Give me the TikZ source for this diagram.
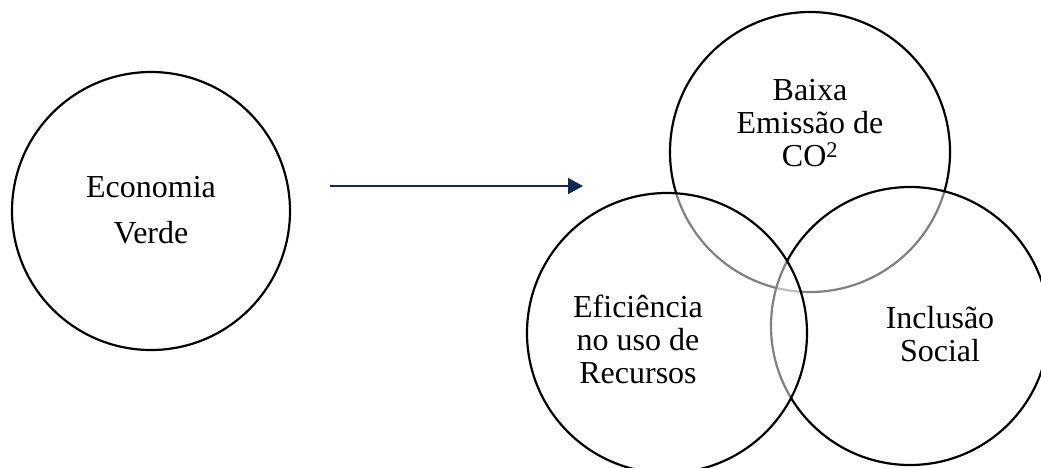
\documentclass[tikz,border=0pt]{standalone}
\usepackage{fontspec}
\setmainfont{Liberation Serif}[Ligatures=NoCommon]
\usetikzlibrary{arrows.meta}
\definecolor{navy}{HTML}{0F2660}
\begin{document}
\begin{tikzpicture}[x=1pt,y=-1pt,
  ring/.style={circle,draw=black,line width=2.2pt,inner sep=0pt,minimum size=#1},
  overlap/.style={fill=white,fill opacity=0.5},
  caption/.style={align=center,inner sep=0pt,font=\fontsize{32}{33}\selectfont},
  flow/.style={draw=navy,line width=1.8pt,-{Triangle[length=15pt,width=16pt]}}]
\clip (0,0) rectangle (1041,467);
% single circle on the left
\node[ring=278pt] (eco) at (151,211) {};
\node[caption,font=\fontsize{32}{46}\selectfont] (ecotext) at (151,210) {Economia\\Verde};
% arrow between the two parts
\coordinate (arrowstart) at (330,186);
\coordinate (arrowend) at (583,186);
\draw[flow] (arrowstart) -- (arrowend);
% three overlapping circles, later ones half-veil the lines below them
\node[ring=280pt,overlap] (co2) at (810,152) {};
\node[ring=278pt,overlap] (soc) at (910,326) {};
\node[ring=280pt,overlap] (efi) at (667,333) {};
\node[caption] (co2text) at (810,123) {Baixa\\Emissão de\\CO\textsuperscript{2}};
\node[caption] (efitext) at (638,339) {Eficiência\\no uso de\\Recursos};
\node[caption] (soctext) at (940,334) {Inclusão\\Social};
\end{tikzpicture}
\end{document}
